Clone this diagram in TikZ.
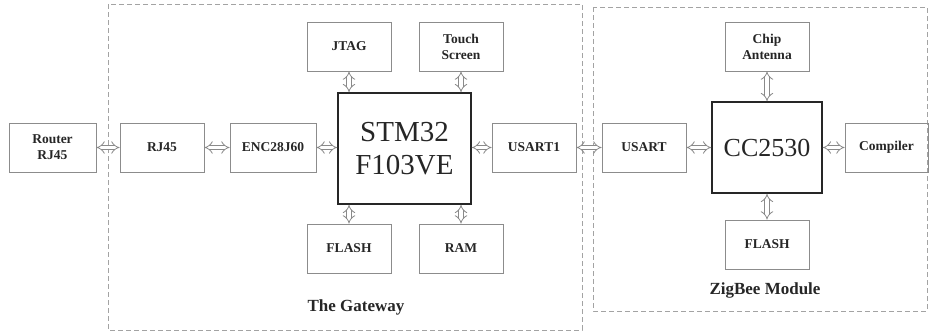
\documentclass[tikz,border=0pt]{standalone}
\usepackage{fontspec}
\setmainfont{Liberation Serif}
\usetikzlibrary{arrows.meta}
\definecolor{boxgray}{HTML}{8C8C8C}
\definecolor{linegray}{HTML}{8A8A8A}
\definecolor{txt}{HTML}{262626}
\tikzset{
  box/.style={draw=boxgray, line width=0.9pt, text=txt, align=center, inner sep=0pt,
    font=\bfseries\fontsize{13.5}{16}\selectfont},
  chip/.style={draw=black!85, line width=1.6pt, text=txt, align=center, inner sep=0pt},
  link/.style={draw=linegray, line width=0.8pt, double=white, double distance=3.6pt,
    {Implies[length=3.5pt]}-{Implies[length=3.5pt]}},
  region/.style={draw=boxgray!80, dashed, dash pattern=on 5pt off 3pt, line width=0.8pt},
  caption/.style={text=txt, font=\bfseries\fontsize{17}{18}\selectfont}
}
\begin{document}
\begin{tikzpicture}[x=1pt,y=-1pt]
\useasboundingbox (0,0) rectangle (930,332);
% regions
\draw[region] (108,4) rectangle (582,330);
\draw[region] (593,7) rectangle (927,311);
% nodes
\node[box, minimum width=87pt, minimum height=49pt] (router) at (52.5,147.5) {Router\\RJ45};
\node[box, minimum width=84pt, minimum height=49pt] (rj45) at (162,147.5) {RJ45};
\node[box, minimum width=86pt, minimum height=49pt] (enc) at (273,147.5) {ENC28J60};
\node[chip, minimum width=133pt, minimum height=111pt, font=\fontsize{29}{33}\selectfont] (stm) at (404.5,148.5) {STM32\\F103VE};
\node[box, minimum width=84pt, minimum height=49pt] (jtag) at (349,46.5) {JTAG};
\node[box, minimum width=84pt, minimum height=49pt] (touch) at (461,46.5) {Touch\\Screen};
\node[box, minimum width=84pt, minimum height=49pt] (flash1) at (349,248.5) {FLASH};
\node[box, minimum width=84pt, minimum height=49pt] (ram) at (461,248.5) {RAM};
\node[box, minimum width=84pt, minimum height=49pt] (usart1) at (534,147.5) {USART1};
\node[box, minimum width=84pt, minimum height=49pt] (usart) at (644,147.5) {USART};
\node[chip, minimum width=110pt, minimum height=91pt, font=\fontsize{26}{28}\selectfont] (cc) at (767,147.5) {CC2530};
\node[box, minimum width=84pt, minimum height=49pt] (antenna) at (767,46.5) {Chip\\Antenna};
\node[box, minimum width=83pt, minimum height=49pt] (compiler) at (886.5,147.5) {Compiler};
\node[box, minimum width=84pt, minimum height=49pt] (flash2) at (767,244.5) {FLASH};
\node[caption] (gw) at (356,307) {The Gateway};
\node[caption] (zb) at (765,290) {ZigBee Module};
% connectors
\draw[link] (router) -- (rj45);
\draw[link] (rj45) -- (enc);
\draw[link] (enc) -- (enc -| stm.west);
\draw[link] (stm.east |- usart1) -- (usart1);
\draw[link] (usart1) -- (usart);
\draw[link] (usart) -- (usart -| cc.west);
\draw[link] (cc.east |- compiler) -- (compiler);
\draw[link] (jtag) -- (jtag |- stm.north);
\draw[link] (touch) -- (touch |- stm.north);
\draw[link] (flash1) -- (flash1 |- stm.south);
\draw[link] (ram) -- (ram |- stm.south);
\draw[link] (antenna) -- (cc);
\draw[link] (flash2) -- (cc);
\end{tikzpicture}
\end{document}
